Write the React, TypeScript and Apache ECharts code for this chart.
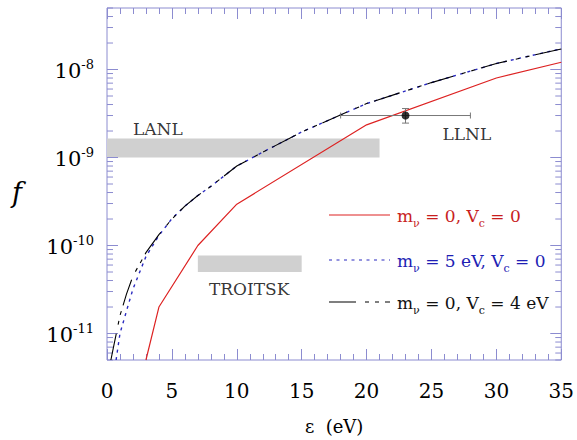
import React, { useEffect, useRef } from "react";
import * as echarts from "echarts";

// ---- data ----
const xRange = [0, 35];
const yRange = [5e-12, 5e-8];
const xTickStep = 5;

const redX = [3, 4, 7, 10, 20, 30, 35];
const redY = [5e-12, 2.0e-11, 1.0e-10, 2.95e-10, 2.35e-9, 8.0e-9, 1.21e-8];

const blueX = [0.7, 1, 1.5, 2, 3, 4, 5, 6, 7, 8, 10, 12, 15, 20, 25, 30, 35];
const blueY = [5e-12, 1.0e-11, 1.8e-11, 3.2e-11, 7.5e-11, 1.3e-10, 2.02e-10, 2.8e-10, 3.7e-10, 4.7e-10, 8.0e-10, 1.15e-9, 1.95e-9, 4.1e-9, 7.1e-9, 1.17e-8, 1.72e-8];

const blackX = [0.3, 0.5, 1, 1.5, 2, 3, 4, 5, 6, 7, 8, 10, 12, 15, 20, 25, 30, 35];
const blackY = [5e-12, 7e-12, 1.6e-11, 2.8e-11, 4.5e-11, 8.3e-11, 1.33e-10, 2.0e-10, 2.8e-10, 3.7e-10, 4.7e-10, 8.0e-10, 1.15e-9, 1.95e-9, 4.1e-9, 7.1e-9, 1.17e-8, 1.71e-8];

// experimental bands: [x0, x1, y0, y1]
const lanlBand = [0, 21, 1.0e-9, 1.64e-9];
const troitskBand = [7, 15, 5.0e-11, 7.7e-11];

// LLNL point with error bars
const llnlPoint = [23, 3.0e-9];
const llnlXErr = [18, 28];
const llnlYErr = [2.46e-9, 3.6e-9];

// annotation labels [name, x, y]
const annotations: [string, number, number][] = [
  ["LANL", 2.0, 2.1e-9],
  ["LLNL", 25.85, 1.85e-9],
  ["TROITSK", 7.85, 3.2e-11],
];

const legendItems = [
  { pre: "m", sub1: "ν", mid: " = 0, V", sub2: "c", post: " = 0", color: "#c81e1e" },
  { pre: "m", sub1: "ν", mid: " = 5 eV, V", sub2: "c", post: " = 0", color: "#1e1eb4" },
  { pre: "m", sub1: "ν", mid: " = 0, V", sub2: "c", post: " = 4 eV", color: "#111111" },
];

const yLogTicksDecades = [-12, -11, -10, -9, -8];

const AXIS_COLOR = "#8c8cd0";
const FONT = "DejaVu Serif";

export default function App() {
  const ref = useRef<HTMLDivElement>(null);
  useEffect(() => {
    if (!ref.current) return;
    const chart = echarts.init(ref.current, undefined, { renderer: "svg" });

    const zip = (xs: number[], ys: number[]) => xs.map((x, i) => [x, ys[i]]);

    const yTicks: number[][] = [];
    yLogTicksDecades.forEach((e) => {
      for (let k = 1; k <= 9; k++) {
        const v = k * Math.pow(10, e);
        if (v >= yRange[0] * 0.999 && v <= yRange[1] * 1.001) yTicks.push([0, v, k === 1 ? 1 : 0]);
      }
    });

    const legendGraphics: any[] = [];
    const legendY = [215, 260, 302];
    const lineStyles = [
      { lineDash: null, stroke: "#dd2222" },
      { lineDash: [3, 4.5], stroke: "#2a2ac0" },
      { lineDash: [27, 9, 4, 6, 4, 6], stroke: "#000" },
    ];
    legendItems.forEach((it, i) => {
      legendGraphics.push({
        type: "line",
        shape: { x1: 329, y1: legendY[i], x2: 390, y2: legendY[i] },
        style: { stroke: lineStyles[i].stroke, lineWidth: 1.2, lineDash: lineStyles[i].lineDash },
        z: 10,
      });
      legendGraphics.push({
        type: "text",
        x: 397,
        y: legendY[i] + 3,
        style: {
          text: `{t|${it.pre}}{s|${it.sub1}}{t|${it.mid}}{s|${it.sub2}}{t|${it.post}}`,
          fill: it.color,
          verticalAlign: "middle",
          rich: {
            t: { fontSize: 17, fontFamily: FONT, fill: it.color, verticalAlign: "top" },
            s: { fontSize: 11, fontFamily: FONT, fill: it.color, verticalAlign: "bottom", padding: [11, 0, 0, 0] },
          },
        },
        z: 10,
      });
    });

    const option: any = {
      animation: false,
      backgroundColor: "#ffffff",
      grid: {
        left: 107,
        right: 15,
        top: 8,
        bottom: 78,
        show: true,
        borderColor: AXIS_COLOR,
        borderWidth: 1,
      },
      xAxis: [
        {
          type: "value",
          min: xRange[0],
          max: xRange[1],
          interval: xTickStep,
          axisLine: { show: false },
          axisTick: { show: true, inside: true, length: 11, lineStyle: { color: AXIS_COLOR } },
          minorTick: { show: true, splitNumber: 5, length: 6, lineStyle: { color: AXIS_COLOR } },
          splitLine: { show: false },
          axisLabel: { fontFamily: FONT, fontSize: 20, color: "#000", margin: 21 },
          name: "ε  (eV)",
          nameLocation: "middle",
          nameGap: 57,
          nameTextStyle: { fontFamily: FONT, fontSize: 18, color: "#000" },
        },
        {
          type: "value",
          position: "top",
          min: xRange[0],
          max: xRange[1],
          interval: xTickStep,
          axisLine: { show: false },
          axisTick: { show: true, inside: true, length: 11, lineStyle: { color: AXIS_COLOR } },
          minorTick: { show: true, splitNumber: 5, length: 6, lineStyle: { color: AXIS_COLOR } },
          splitLine: { show: false },
          axisLabel: { show: false },
        },
      ],
      yAxis: [
        {
          type: "log",
          logBase: 10,
          min: yRange[0],
          max: yRange[1],
          axisLine: { show: false },
          axisTick: { show: false },
          splitLine: { show: false },
          axisLabel: {
            margin: 13,
            formatter: (v: number) => {
              const e = Math.log10(v);
              if (Math.abs(e - Math.round(e)) > 0.01) return "";
              return `{b|10}{s|${Math.round(e)}}`;
            },
            rich: {
              b: { fontFamily: FONT, fontSize: 21, color: "#000", verticalAlign: "bottom" },
              s: { fontFamily: FONT, fontSize: 13, color: "#000", verticalAlign: "bottom", padding: [0, 0, 11, 0] },
            },
          },
        },
      ],
      graphic: [
        {
          type: "text",
          x: 12,
          y: 179,
          style: { text: "f", fontFamily: FONT, fontStyle: "italic", fontSize: 27, fill: "#000" },
        },
        ...legendGraphics,
      ],
      series: [
        {
          type: "custom",
          name: "bands",
          silent: true,
          clip: true,
          data: [lanlBand, troitskBand],
          encode: { x: [0, 1], y: [2, 3] },
          renderItem: (params: any, api: any) => {
            const p0 = api.coord([api.value(0), api.value(2)]);
            const p1 = api.coord([api.value(1), api.value(3)]);
            return {
              type: "rect",
              shape: { x: p0[0], y: p1[1], width: p1[0] - p0[0], height: p0[1] - p1[1] },
              style: { fill: "#d0d0d0" },
            };
          },
          z: 1,
        },
        {
          type: "custom",
          name: "yticks",
          silent: true,
          clip: false,
          data: yTicks,
          encode: { x: 0, y: 1 },
          renderItem: (params: any, api: any) => {
            const v = api.value(1);
            const major = api.value(2) === 1;
            const pl = api.coord([xRange[0], v]);
            const pr = api.coord([xRange[1], v]);
            const len = major ? 11 : 6;
            return {
              type: "group",
              children: [
                { type: "line", shape: { x1: pl[0], y1: pl[1], x2: pl[0] + len, y2: pl[1] }, style: { stroke: AXIS_COLOR, lineWidth: 1 } },
                { type: "line", shape: { x1: pr[0] - len, y1: pr[1], x2: pr[0], y2: pr[1] }, style: { stroke: AXIS_COLOR, lineWidth: 1 } },
              ],
            };
          },
          z: 2,
        },
        {
          type: "line",
          name: "red",
          data: zip(redX, redY),
          showSymbol: false,
          symbol: "none",
          clip: true,
          lineStyle: { color: "#dd2222", width: 1.2 },
          z: 5,
        },
        {
          type: "line",
          name: "blue",
          data: zip(blueX, blueY),
          symbol: "none",
          clip: true,
          lineStyle: { color: "#2a2ac0", width: 1.4, type: [3, 4.5] },
          z: 5,
        },
        {
          type: "line",
          name: "black",
          data: zip(blackX, blackY),
          symbol: "none",
          clip: true,
          lineStyle: { color: "#000", width: 1.1, type: [27, 9, 4, 6, 4, 6] },
          z: 6,
        },
        {
          type: "custom",
          name: "llnlErr",
          silent: true,
          clip: false,
          data: [[llnlPoint[0], llnlPoint[1], llnlXErr[0], llnlXErr[1], llnlYErr[0], llnlYErr[1]]],
          encode: { x: 0, y: 1 },
          renderItem: (params: any, api: any) => {
            const c = api.coord([api.value(0), api.value(1)]);
            const xl = api.coord([api.value(2), api.value(1)]);
            const xr = api.coord([api.value(3), api.value(1)]);
            const yl = api.coord([api.value(0), api.value(4)]);
            const yh = api.coord([api.value(0), api.value(5)]);
            const st = { stroke: "#777", lineWidth: 1 };
            return {
              type: "group",
              children: [
                { type: "line", shape: { x1: xl[0], y1: c[1], x2: xr[0], y2: c[1] }, style: st },
                { type: "line", shape: { x1: xl[0], y1: c[1] - 3, x2: xl[0], y2: c[1] + 3 }, style: st },
                { type: "line", shape: { x1: xr[0], y1: c[1] - 3, x2: xr[0], y2: c[1] + 3 }, style: st },
                { type: "line", shape: { x1: c[0], y1: yl[1], x2: c[0], y2: yh[1] }, style: st },
                { type: "line", shape: { x1: c[0] - 3.5, y1: yl[1], x2: c[0] + 3.5, y2: yl[1] }, style: st },
                { type: "line", shape: { x1: c[0] - 3.5, y1: yh[1], x2: c[0] + 3.5, y2: yh[1] }, style: st },
              ],
            };
          },
          z: 7,
        },
        {
          type: "scatter",
          name: "LLNL",
          data: [llnlPoint],
          symbol: "circle",
          symbolSize: 8,
          itemStyle: { color: "#000" },
          z: 8,
        },
        {
          type: "scatter",
          name: "labels",
          silent: true,
          symbolSize: 0,
          data: annotations.map((a) => ({ name: a[0], value: [a[1], a[2]] })),
          label: {
            show: true,
            position: "right",
            distance: 0,
            formatter: (p: any) => p.name,
            fontFamily: FONT,
            fontSize: 17,
            color: "#000",
          },
          z: 9,
        },
      ],
    };
    chart.setOption(option);
    return () => chart.dispose();
  }, []);
  return (
    <div
      ref={ref}
      style={{ position: "fixed", left: 0, top: 0, width: 577, height: 440, background: "#fff" }}
    />
  );
}
